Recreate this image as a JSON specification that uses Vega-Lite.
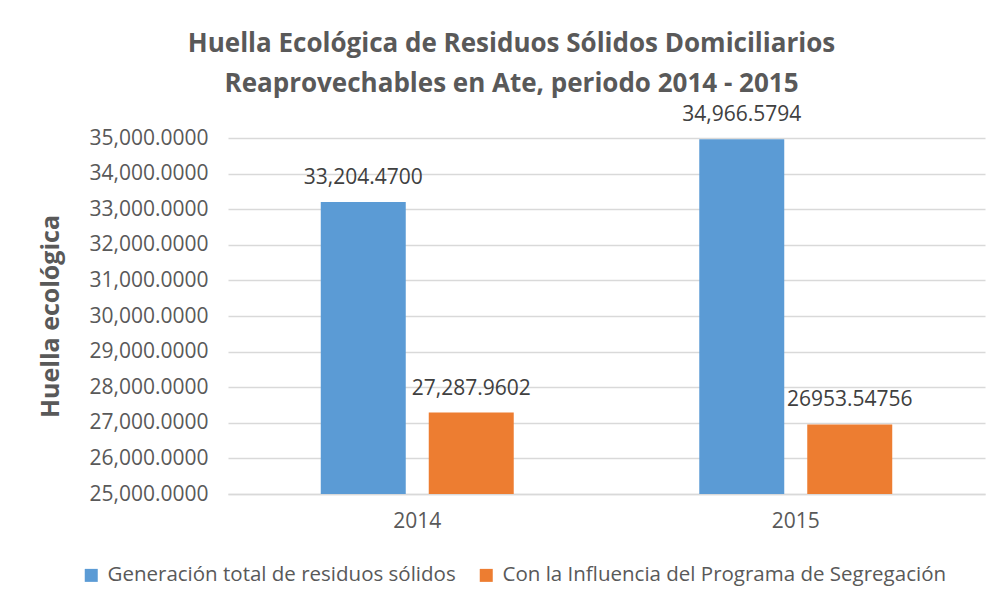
{
  "$schema": "https://vega.github.io/schema/vega-lite/v6.json",
  "width": 757,
  "height": 356,
  "autosize": {"type": "none"},
  "padding": {"left": 228, "top": 138, "right": 20, "bottom": 118},
  "background": "white",
  "title": {
    "text": ["Huella Ecológica de Residuos Sólidos Domiciliarios", "Reaprovechables en Ate, periodo 2014 - 2015"],
    "font": "Open Sans",
    "fontSize": 26,
    "fontWeight": "bold",
    "color": "#595959",
    "anchor": "middle",
    "dx": -95,
    "offset": 7,
    "lineHeight": 40
  },
  "data": {
    "values": [
      {"year": "2014", "serie": "Generación total de residuos sólidos", "value": 33204.47, "label": "33,204.4700"},
      {"year": "2014", "serie": "Con la Influencia del Programa de Segregación", "value": 27287.9602, "label": "27,287.9602"},
      {"year": "2015", "serie": "Generación total de residuos sólidos", "value": 34966.5794, "label": "34,966.5794"},
      {"year": "2015", "serie": "Con la Influencia del Programa de Segregación", "value": 26953.54756, "label": "26953.54756"}
    ]
  },
  "encoding": {
    "x": {
      "field": "year",
      "type": "nominal",
      "scale": {"paddingInner": 0, "paddingOuter": 0},
      "axis": {
        "title": null,
        "labelAngle": 0,
        "labelFont": "Open Sans",
        "labelFontSize": 21,
        "labelColor": "#595959",
        "labelPadding": 16,
        "ticks": false,
        "domain": true,
        "domainColor": "#D9D9D9",
        "domainWidth": 1.5
      }
    },
    "xOffset": {
      "field": "serie",
      "type": "nominal",
      "sort": ["Generación total de residuos sólidos", "Con la Influencia del Programa de Segregación"],
      "scale": {"paddingInner": 0.213, "paddingOuter": 0.859}
    },
    "y": {
      "field": "value",
      "type": "quantitative",
      "scale": {"domain": [25000, 35000], "zero": false, "nice": false},
      "axis": {
        "title": "Huella ecológica",
        "titleFont": "Open Sans",
        "titleFontSize": 25,
        "titleFontWeight": "bold",
        "titleColor": "#595959",
        "titleX": -178,
        "titleY": 178,
        "titleAngle": -90,
        "titleBaseline": "middle",
        "titleAlign": "center",
        "values": [25000, 26000, 27000, 28000, 29000, 30000, 31000, 32000, 33000, 34000, 35000],
        "format": ",.4f",
        "labelFont": "Open Sans",
        "labelFontSize": 21,
        "labelColor": "#595959",
        "labelPadding": 20,
        "ticks": false,
        "domain": false,
        "grid": true,
        "gridColor": "#D9D9D9",
        "gridWidth": 1.5
      }
    }
  },
  "layer": [
    {
      "mark": {"type": "bar"},
      "encoding": {
        "y2": {"datum": 25000},
        "color": {
          "field": "serie",
          "type": "nominal",
          "scale": {
            "domain": ["Generación total de residuos sólidos", "Con la Influencia del Programa de Segregación"],
            "range": ["#5B9BD5", "#ED7D31"]
          },
          "legend": {
            "title": null,
            "orient": "none",
            "direction": "horizontal",
            "legendX": -147,
            "legendY": 427,
            "symbolType": "square",
            "symbolSize": 169,
            "symbolStrokeWidth": 0,
            "labelFont": "Open Sans",
            "labelFontSize": 20.5,
            "labelColor": "#595959",
            "labelLimit": 600,
            "columnPadding": 20,
            "labelOffset": 6
          }
        }
      }
    },
    {
      "mark": {"type": "text", "dy": -24, "font": "Open Sans", "fontSize": 21, "color": "#404040", "baseline": "middle"},
      "encoding": {
        "text": {"field": "label"}
      }
    }
  ],
  "config": {"view": {"stroke": null}}
}
